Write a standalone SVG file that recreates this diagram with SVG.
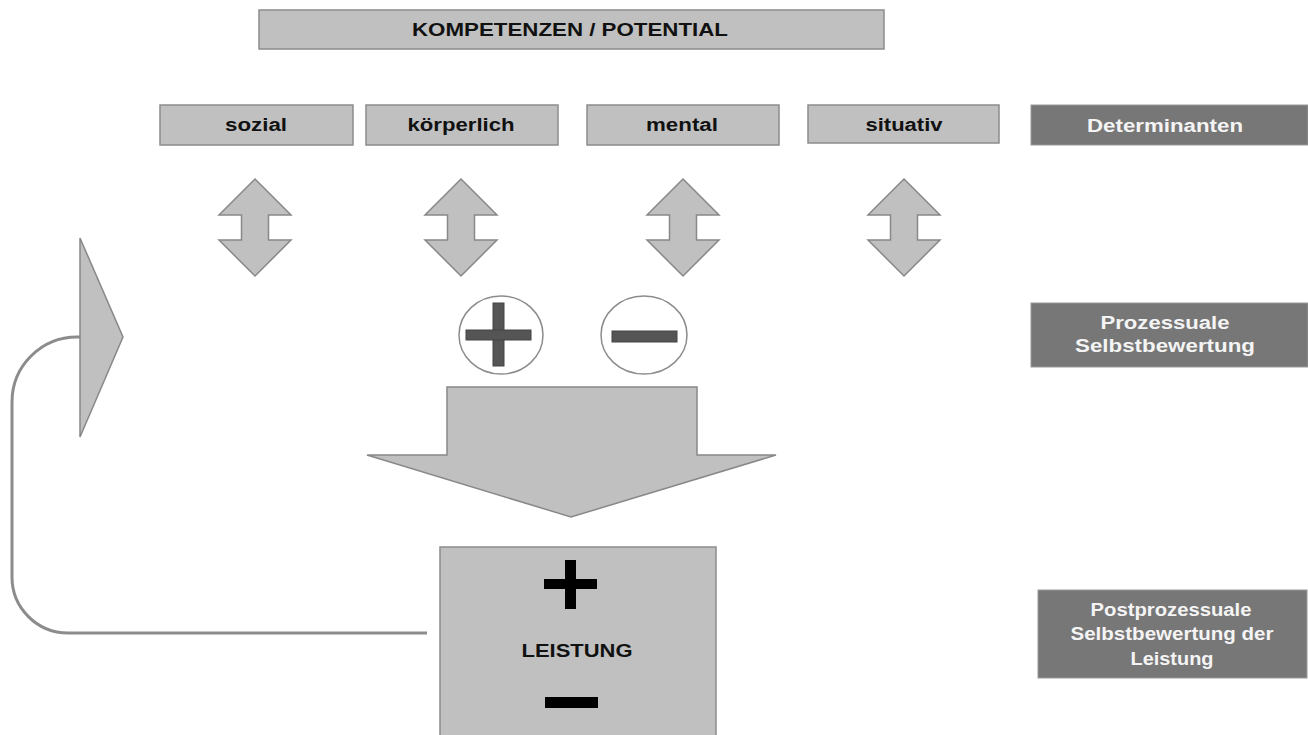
<svg xmlns="http://www.w3.org/2000/svg" width="1308" height="735" viewBox="0 0 1308 735">
<style>
.box{fill:#c0c0c0;stroke:#8c8c8c;stroke-width:1.5}
.dark{fill:#777777;stroke:#999999;stroke-width:1}
.t{font-family:"Liberation Sans",Arial,sans-serif;font-weight:bold;font-size:18px;fill:#111;text-anchor:middle}
.w{font-family:"Liberation Sans",Arial,sans-serif;font-weight:bold;font-size:18px;fill:#f4f4f4;text-anchor:middle}
.arr{fill:#c0c0c0;stroke:#888;stroke-width:1.5;stroke-linejoin:miter}
.circ{fill:#fff;stroke:#8c8c8c;stroke-width:1.5}
</style>
<defs>
<path id="dbl" d="M0,-48 L36,-12 L13.5,-12 L13.5,13 L36,13 L0,49 L-36,13 L-13.5,13 L-13.5,-12 L-36,-12 Z" class="arr"/>
</defs>
<rect width="1308" height="735" fill="#fff"/>
<g id="kompetenzen">
<rect class="box" x="259" y="10" width="625" height="39"/>
<text class="t" x="570" y="36" textLength="316" lengthAdjust="spacingAndGlyphs">KOMPETENZEN / POTENTIAL</text>
</g>
<g id="sozial">
<rect class="box" x="160" y="105" width="193" height="40"/>
<text class="t" x="256" y="131" textLength="62" lengthAdjust="spacingAndGlyphs">sozial</text>
</g>
<g id="koerperlich">
<rect class="box" x="366" y="105" width="192" height="40"/>
<text class="t" x="461" y="131" textLength="107" lengthAdjust="spacingAndGlyphs">körperlich</text>
</g>
<g id="mental">
<rect class="box" x="587" y="105" width="192" height="40"/>
<text class="t" x="682" y="131" textLength="72" lengthAdjust="spacingAndGlyphs">mental</text>
</g>
<g id="situativ">
<rect class="box" x="808" y="105" width="191" height="38"/>
<text class="t" x="904" y="131" textLength="77" lengthAdjust="spacingAndGlyphs">situativ</text>
</g>
<g id="determinanten">
<rect class="dark" x="1031" y="105" width="277" height="40"/>
<text class="w" x="1165" y="132" textLength="156" lengthAdjust="spacingAndGlyphs">Determinanten</text>
</g>
<g id="prozessuale">
<rect class="dark" x="1031" y="303" width="277" height="64"/>
<text class="w" x="1165" y="329" textLength="129" lengthAdjust="spacingAndGlyphs">Prozessuale</text>
<text class="w" x="1165" y="352" textLength="180" lengthAdjust="spacingAndGlyphs">Selbstbewertung</text>
</g>
<g id="postprozessuale">
<rect class="dark" x="1038" y="590" width="269" height="88"/>
<text class="w" x="1171" y="616" textLength="161" lengthAdjust="spacingAndGlyphs">Postprozessuale</text>
<text class="w" x="1172" y="640" textLength="203" lengthAdjust="spacingAndGlyphs">Selbstbewertung der</text>
<text class="w" x="1172" y="665" textLength="83" lengthAdjust="spacingAndGlyphs">Leistung</text>
</g>
<g id="arrows-determinanten">
<use href="#dbl" x="255" y="227"/>
<use href="#dbl" x="461" y="227"/>
<use href="#dbl" x="683" y="227"/>
<use href="#dbl" x="904" y="227"/>
</g>
<g id="plus-circle">
<ellipse class="circ" cx="501" cy="335" rx="42" ry="39"/>
<rect x="493" y="303" width="11" height="63" fill="#555" stroke="#444" stroke-width="1"/>
<rect x="466" y="330" width="65" height="10" fill="#555" stroke="#444" stroke-width="1"/>
</g>
<g id="minus-circle">
<ellipse class="circ" cx="644" cy="335" rx="43" ry="39"/>
<rect x="612" y="331" width="65" height="11" fill="#555" stroke="#444" stroke-width="1"/>
</g>
<g id="big-arrow">
<path class="arr" d="M447,387 L697,387 L697,455 L776,455 L571,517 L367,455 L447,455 Z"/>
</g>
<g id="leistung">
<rect class="box" x="440" y="547" width="276" height="200"/>
<rect x="565" y="560" width="11" height="49" fill="#000"/>
<rect x="544" y="579" width="53" height="10" fill="#000"/>
<text class="t" x="577" y="657" textLength="111" lengthAdjust="spacingAndGlyphs">LEISTUNG</text>
<rect x="545" y="697" width="53" height="11" fill="#000"/>
</g>
<g id="connectors">
<path d="M427,633 L68,633 A56,56 0 0 1 12,577 L12,402 A65,65 0 0 1 77,337 L82,337" fill="none" stroke="#8c8c8c" stroke-width="3"/>
<path class="arr" d="M80,238 L123,337 L80,437 Z"/>
</g>
</svg>
